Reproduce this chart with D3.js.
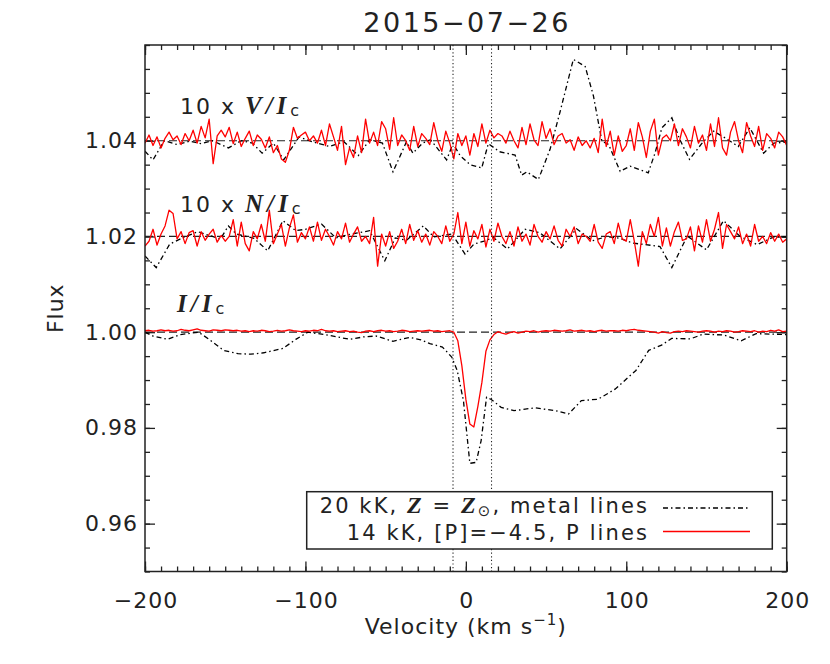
<!DOCTYPE html>
<html><head><meta charset="utf-8">
<script src="https://cdn.jsdelivr.net/npm/d3@7"></script>
<style>body{margin:0;background:#fff}svg{display:block}</style>
</head><body><svg id="chart" width="830" height="664"></svg>
<script>
// ---------------- data ----------------
const titleText = "2015\u221207\u221226";
const xTicks = [-200, -100, 0, 100, 200];
const yTicks = [0.96, 0.98, 1.00, 1.02, 1.04];
const baselines = [1.04, 1.02, 1.00];
const markerVel = [-8, 16];
const xDomain = [-200, 200];
const yDomain = [0.95, 1.06];

// red (P lines) profiles, sampled every 2.5 km/s from -200 to 200
const redVel = d3.range(-200, 200.01, 2.5);
const redV = [
1.0395,1.0412,1.0390,1.0408,1.0385,1.0405,1.0418,1.0402,1.0410,1.0392,
1.0415,1.0400,1.0422,1.0395,1.0430,1.0406,1.0445,1.0352,1.0410,1.0422,
1.0408,1.0428,1.0394,1.0418,1.0388,1.0405,1.0420,1.0390,1.0412,1.0403,
1.0385,1.0408,1.0375,1.0390,1.0362,1.0355,1.0380,1.0428,1.0405,1.0412,
1.0418,1.0400,1.0410,1.0395,1.0422,1.0390,1.0435,1.0408,1.0380,1.0430,
1.0350,1.0385,1.0365,1.0410,1.0375,1.0445,1.0395,1.0418,1.0390,1.0440,
1.0425,1.0382,1.0448,1.0390,1.0412,1.0400,1.0380,1.0430,1.0388,1.0415,
1.0405,1.0392,1.0438,1.0400,1.0378,1.0420,1.0395,1.0362,1.0415,1.0390,
1.0410,1.0370,1.0415,1.0388,1.0435,1.0395,1.0422,1.0406,1.0415,1.0410,
1.0395,1.0420,1.0400,1.0385,1.0428,1.0392,1.0435,1.0402,1.0390,1.0440,
1.0405,1.0425,1.0392,1.0410,1.0415,1.0395,1.0402,1.0380,1.0408,1.0390,
1.0400,1.0385,1.0405,1.0375,1.0445,1.0388,1.0420,1.0370,1.0410,1.0378,
1.0390,1.0425,1.0380,1.0438,1.0408,1.0365,1.0420,1.0445,1.0370,1.0405,
1.0412,1.0400,1.0435,1.0390,1.0425,1.0408,1.0385,1.0430,1.0395,1.0412,
1.0380,1.0435,1.0388,1.0448,1.0385,1.0370,1.0418,1.0440,1.0400,1.0375,
1.0438,1.0410,1.0388,1.0430,1.0380,1.0415,1.0405,1.0385,1.0418,1.0408,
1.0390];
const redN = [
1.0180,1.0190,1.0215,1.0182,1.0205,1.0222,1.0255,1.0248,1.0195,1.0210,
1.0185,1.0208,1.0212,1.0180,1.0210,1.0192,1.0205,1.0215,1.0188,1.0202,
1.0190,1.0200,1.0235,1.0180,1.0230,1.0185,1.0170,1.0210,1.0195,1.0225,
1.0190,1.0255,1.0185,1.0205,1.0225,1.0180,1.0218,1.0245,1.0188,1.0208,
1.0195,1.0220,1.0190,1.0230,1.0192,1.0215,1.0200,1.0182,1.0210,1.0195,
1.0228,1.0188,1.0205,1.0220,1.0190,1.0200,1.0185,1.0240,1.0138,1.0205,
1.0180,1.0210,1.0175,1.0190,1.0215,1.0185,1.0225,1.0192,1.0212,1.0188,
1.0205,1.0182,1.0210,1.0200,1.0185,1.0222,1.0190,1.0205,1.0250,1.0185,
1.0230,1.0180,1.0212,1.0195,1.0225,1.0178,1.0215,1.0190,1.0228,1.0200,
1.0185,1.0210,1.0180,1.0220,1.0190,1.0205,1.0182,1.0225,1.0200,1.0188,
1.0210,1.0195,1.0222,1.0192,1.0180,1.0215,1.0200,1.0220,1.0185,1.0205,
1.0200,1.0190,1.0225,1.0188,1.0175,1.0205,1.0210,1.0185,1.0228,1.0195,
1.0190,1.0235,1.0190,1.0138,1.0210,1.0185,1.0225,1.0200,1.0240,1.0180,
1.0218,1.0180,1.0210,1.0230,1.0192,1.0195,1.0220,1.0170,1.0222,1.0188,
1.0235,1.0190,1.0215,1.0250,1.0175,1.0225,1.0210,1.0195,1.0220,1.0185,
1.0205,1.0180,1.0225,1.0190,1.0200,1.0185,1.0208,1.0190,1.0205,1.0188,
1.0195];
const redI = [
1.0003,1.0004,1.0002,1.0003,1.0005,1.0003,1.0004,1.0002,1.0003,1.0006,
1.0004,1.0003,1.0005,1.0007,1.0004,1.0003,1.0002,1.0005,1.0004,1.0003,
1.0005,1.0004,1.0003,1.0004,1.0002,1.0003,1.0001,1.0003,1.0002,1.0004,
1.0003,1.0001,1.0002,1.0004,1.0002,1.0003,1.0005,1.0003,1.0002,1.0001,
1.0003,1.0002,1.0004,1.0003,1.0006,1.0003,1.0002,1.0003,1.0001,1.0002,
1.0003,1.0001,1.0002,1.0000,0.9999,1.0002,1.0003,1.0001,1.0003,1.0004,
1.0002,1.0003,1.0001,1.0002,1.0004,1.0003,1.0001,1.0002,1.0003,1.0002,
1.0003,1.0004,1.0002,1.0003,1.0001,1.0002,1.0003,1.0000,0.9982,0.9930,
0.9860,0.9808,0.9802,0.9845,0.9895,0.9960,0.9984,0.9995,1.0001,0.9998,
0.9996,0.9999,1.0001,0.9998,1.0000,1.0002,1.0001,1.0003,1.0000,1.0002,
1.0003,1.0002,1.0004,1.0003,1.0002,1.0003,1.0005,1.0002,1.0003,1.0004,
1.0002,1.0003,1.0001,1.0003,1.0004,1.0002,1.0003,1.0003,1.0002,1.0004,
1.0003,1.0005,1.0006,1.0004,1.0003,1.0002,1.0001,1.0000,0.9998,1.0001,
0.9999,0.9998,1.0001,1.0002,1.0001,1.0003,1.0002,1.0001,1.0000,1.0002,
1.0003,1.0002,1.0000,1.0002,1.0001,1.0003,1.0002,1.0000,1.0001,1.0003,
1.0002,1.0001,1.0003,1.0000,1.0002,1.0001,1.0004,1.0002,1.0005,1.0001,
1.0002];

// black (metal lines) profiles
const blackVVel = [-200,-195,-188,-180,-172,-165,-158,-148,-140,-133,-127,-120,-113.5,-104,-96,-85,-76,-67,-60,-52,-45.4,-37,-33,-27,-22,-12,-8,-3.6,2.6,9.9,14,21,30.7,34.8,38,45.2,52.5,58.7,67,74.4,79.5,84.8,89,96.2,102.4,113.7,118,122.2,128.4,133,139.4,147,154.4,162,169.8,177,185.6,192,200];
const blackV = [1.0378,1.0360,1.0400,1.0392,1.0399,1.0394,1.0400,1.0385,1.0400,1.0395,1.0374,1.0395,1.0360,1.0408,1.0398,1.0388,1.0398,1.0369,1.0402,1.0395,1.0335,1.0398,1.0374,1.0395,1.0402,1.0360,1.0394,1.0369,1.0350,1.0343,1.0394,1.0377,1.0370,1.0328,1.0335,1.0319,1.0382,1.0460,1.0570,1.0555,1.0494,1.0399,1.0392,1.0336,1.0347,1.0333,1.0375,1.0427,1.0448,1.0405,1.0361,1.0394,1.0420,1.0405,1.0388,1.0427,1.0374,1.0395,1.0397];
const blackNVel = [-200,-193,-184.6,-176,-167,-160,-153,-148,-143,-132,-123.5,-114,-106,-100,-90,-81,-71.5,-60,-50.5,-44,-37,-26.5,-20,-8.6,-0.5,5,12,17,26,37,46,58.7,69,79,88,96,104,112,121,128.4,138,150,160.6,171,181.6,192,200];
const blackN = [1.0159,1.0135,1.0184,1.0198,1.0210,1.0202,1.0195,1.0222,1.0205,1.0196,1.0170,1.0233,1.0212,1.0215,1.0226,1.0197,1.0205,1.0212,1.0149,1.0197,1.0192,1.0222,1.0199,1.0205,1.0163,1.0184,1.0191,1.0198,1.0174,1.0215,1.0208,1.0174,1.0216,1.0191,1.0200,1.0196,1.0186,1.0183,1.0179,1.0135,1.0201,1.0172,1.0233,1.0200,1.0183,1.0199,1.0199];
const blackIVel = [-200,-195,-186,-178,-166.6,-160,-151,-142,-134,-126,-114,-106,-98.5,-88,-80,-72.3,-64,-56,-45.5,-35,-28,-22.4,-14.6,-8.8,-5.4,-1.5,2.5,6.4,9.5,12.9,15.6,22,30,43,56,64,72,82.5,93,106,114,122,128.3,140,148,161,171.6,181,200];
const blackI = [1.0000,0.9992,0.9985,0.9995,1.0000,0.9985,0.9962,0.9955,0.9954,0.9957,0.9966,0.9985,1.0000,0.9995,0.9990,0.9985,0.9990,0.9992,0.9981,0.9989,0.9984,0.9976,0.9969,0.9948,0.9920,0.9857,0.9726,0.9728,0.9773,0.9864,0.9860,0.9843,0.9836,0.9842,0.9836,0.9829,0.9857,0.9860,0.9881,0.9920,0.9962,0.9973,0.9987,0.9986,0.9996,0.9994,0.9982,0.9997,0.9995];

const legendLabels = ["metal", "P"];

// ---------------- layout ----------------
const W = 830, H = 664;
const L = 145, R = 786.7, T = 45, B = 571.5;
const SANS = "DejaVu Sans, Liberation Sans, sans-serif";
const SERIF = "Liberation Serif, DejaVu Serif, serif";
const INK = "#222";

const x = d3.scaleLinear().domain(xDomain).range([L, R]);
const y = d3.scaleLinear().domain(yDomain).range([B, T]);
const svg = d3.select("#chart");
svg.append("rect").attr("width", W).attr("height", H).attr("fill", "#fff");

svg.append("defs").append("clipPath").attr("id", "clip")
  .append("rect").attr("x", L).attr("y", T).attr("width", R - L).attr("height", B - T);

// axes
const xMinor = d3.range(-200, 200.1, 10);
const yMinor = d3.range(0.95, 1.0601, 0.005);
function axisG(axis, tx, ty) {
  const g = svg.append("g").attr("transform", `translate(${tx},${ty})`).call(axis);
  g.select(".domain").remove();
  g.selectAll("line").attr("stroke", INK).attr("stroke-width", 1.3);
  g.selectAll("text").attr("font-family", SANS).attr("font-size", 22)
    .attr("fill", INK).style("letter-spacing", "1px");
  return g;
}
axisG(d3.axisBottom(x).tickValues(xMinor).tickSize(-5).tickFormat(""), 0, B);
axisG(d3.axisTop(x).tickValues(xMinor).tickSize(-5).tickFormat(""), 0, T);
axisG(d3.axisLeft(y).tickValues(yMinor).tickSize(-5).tickFormat(""), L, 0);
axisG(d3.axisRight(y).tickValues(yMinor).tickSize(-5).tickFormat(""), R, 0);
const gxb = axisG(d3.axisBottom(x).tickValues(xTicks).tickSize(-10).tickPadding(21).tickFormat(d3.format("d")), 0, B);
gxb.selectAll("text").attr("dx", 0.5);
axisG(d3.axisTop(x).tickValues(xTicks).tickSize(-10).tickFormat(""), 0, T);
axisG(d3.axisLeft(y).tickValues(yTicks).tickSize(-10).tickPadding(7).tickFormat(d3.format(".2f")), L, 0);
axisG(d3.axisRight(y).tickValues(yTicks).tickSize(-10).tickFormat(""), R, 0);

// plot contents
const plot = svg.append("g").attr("clip-path", "url(#clip)");
plot.selectAll("line.base").data(baselines).join("line")
  .attr("x1", L).attr("x2", R).attr("y1", d => y(d)).attr("y2", d => y(d))
  .attr("stroke", INK).attr("stroke-width", 1.2).attr("stroke-dasharray", "8,4");

const line = d3.line().x(d => x(d[0])).y(d => y(d[1]));
const blackSets = [[blackVVel, blackV], [blackNVel, blackN], [blackIVel, blackI]];
blackSets.forEach(([vv, ff]) => {
  plot.append("path").datum(vv.map((v, i) => [v, ff[i]]))
    .attr("d", line).attr("fill", "none").attr("stroke", "#000")
    .attr("stroke-width", 1.3).attr("stroke-dasharray", "5,3,1.5,3");
});
[redV, redN, redI].forEach(ff => {
  plot.append("path").datum(redVel.map((v, i) => [v, ff[i]]))
    .attr("d", line).attr("fill", "none").attr("stroke", "#ff0000")
    .attr("stroke-width", 1.3).attr("stroke-linejoin", "round");
});
plot.selectAll("line.mark").data(markerVel).join("line")
  .attr("x1", d => x(d)).attr("x2", d => x(d)).attr("y1", T).attr("y2", B)
  .attr("stroke", INK).attr("stroke-width", 1.1).attr("stroke-dasharray", "1.2,2.4");

// frame
svg.append("rect").attr("x", L).attr("y", T).attr("width", R - L).attr("height", B - T)
  .attr("fill", "none").attr("stroke", INK).attr("stroke-width", 1.5);

// title and axis titles
svg.append("text").attr("x", (L + R) / 2).attr("y", 31.5).attr("text-anchor", "middle")
  .attr("font-family", SANS).attr("font-size", 27).attr("fill", INK)
  .attr("textLength", 205).attr("lengthAdjust", "spacing").text(titleText);

const xl = svg.append("text").attr("x", (L + R) / 2).attr("y", 634).attr("text-anchor", "middle")
  .attr("font-family", SANS).attr("font-size", 22).attr("fill", INK).style("letter-spacing", "1px");
xl.append("tspan").text("Velocity (km s");
xl.append("tspan").attr("font-size", 15).attr("dy", -9).text("\u22121");
xl.append("tspan").attr("dy", 9).text(")");

svg.append("text").attr("transform", `translate(63,${(T + B) / 2}) rotate(-90)`)
  .attr("text-anchor", "middle").attr("font-family", SANS).attr("font-size", 22)
  .attr("fill", INK).style("letter-spacing", "1px").text("Flux");

// in-plot labels
function mathLabel(x0, y0, prefix, sym) {
  const t = svg.append("text").attr("x", x0).attr("y", y0).attr("font-family", SANS)
    .attr("font-size", 22).attr("fill", INK).style("letter-spacing", "2px");
  if (prefix) t.append("tspan").text(prefix);
  t.append("tspan").attr("font-family", SERIF).attr("font-weight", "bold")
    .attr("font-style", "italic").attr("font-size", 25).style("letter-spacing", "4px").text(sym + "/I");
  t.append("tspan").attr("font-size", 16).attr("dy", 2).text("c");
}
mathLabel(180, 114, "10 x ", "V");
mathLabel(180, 212, "10 x ", "N");
mathLabel(177, 312, "", "I");

// legend
svg.append("rect").attr("x", 306.7).attr("y", 491.7).attr("width", 465.6).attr("height", 57.3)
  .attr("fill", "#fff").attr("stroke", INK).attr("stroke-width", 1.5);
const l1 = svg.append("text").attr("x", 649).attr("y", 513).attr("text-anchor", "end")
  .attr("font-family", SANS).attr("font-size", 21).attr("fill", INK).style("letter-spacing", "2.1px");
l1.append("tspan").text("20 kK, ");
l1.append("tspan").attr("font-family", SERIF).attr("font-weight", "bold").attr("font-style", "italic").attr("font-size", 24).text("Z");
l1.append("tspan").text(" = ");
l1.append("tspan").attr("font-family", SERIF).attr("font-weight", "bold").attr("font-style", "italic").attr("font-size", 24).text("Z");
l1.append("tspan").attr("font-size", 15).attr("dy", 3).text("\u2299");
l1.append("tspan").attr("dy", -3).text(", " + legendLabels[0] + " lines");
const l2 = svg.append("text").attr("x", 649).attr("y", 540).attr("text-anchor", "end")
  .attr("font-family", SANS).attr("font-size", 21).attr("fill", INK).style("letter-spacing", "2.1px")
  .text("14 kK, [P]=\u22124.5, " + legendLabels[1] + " lines");
svg.append("line").attr("x1", 663).attr("x2", 750).attr("y1", 508).attr("y2", 508)
  .attr("stroke", "#000").attr("stroke-width", 1.3).attr("stroke-dasharray", "5,3,1.5,3");
svg.append("line").attr("x1", 663).attr("x2", 750).attr("y1", 531.5).attr("y2", 531.5)
  .attr("stroke", "#ff0000").attr("stroke-width", 1.3);
</script></body></html>
